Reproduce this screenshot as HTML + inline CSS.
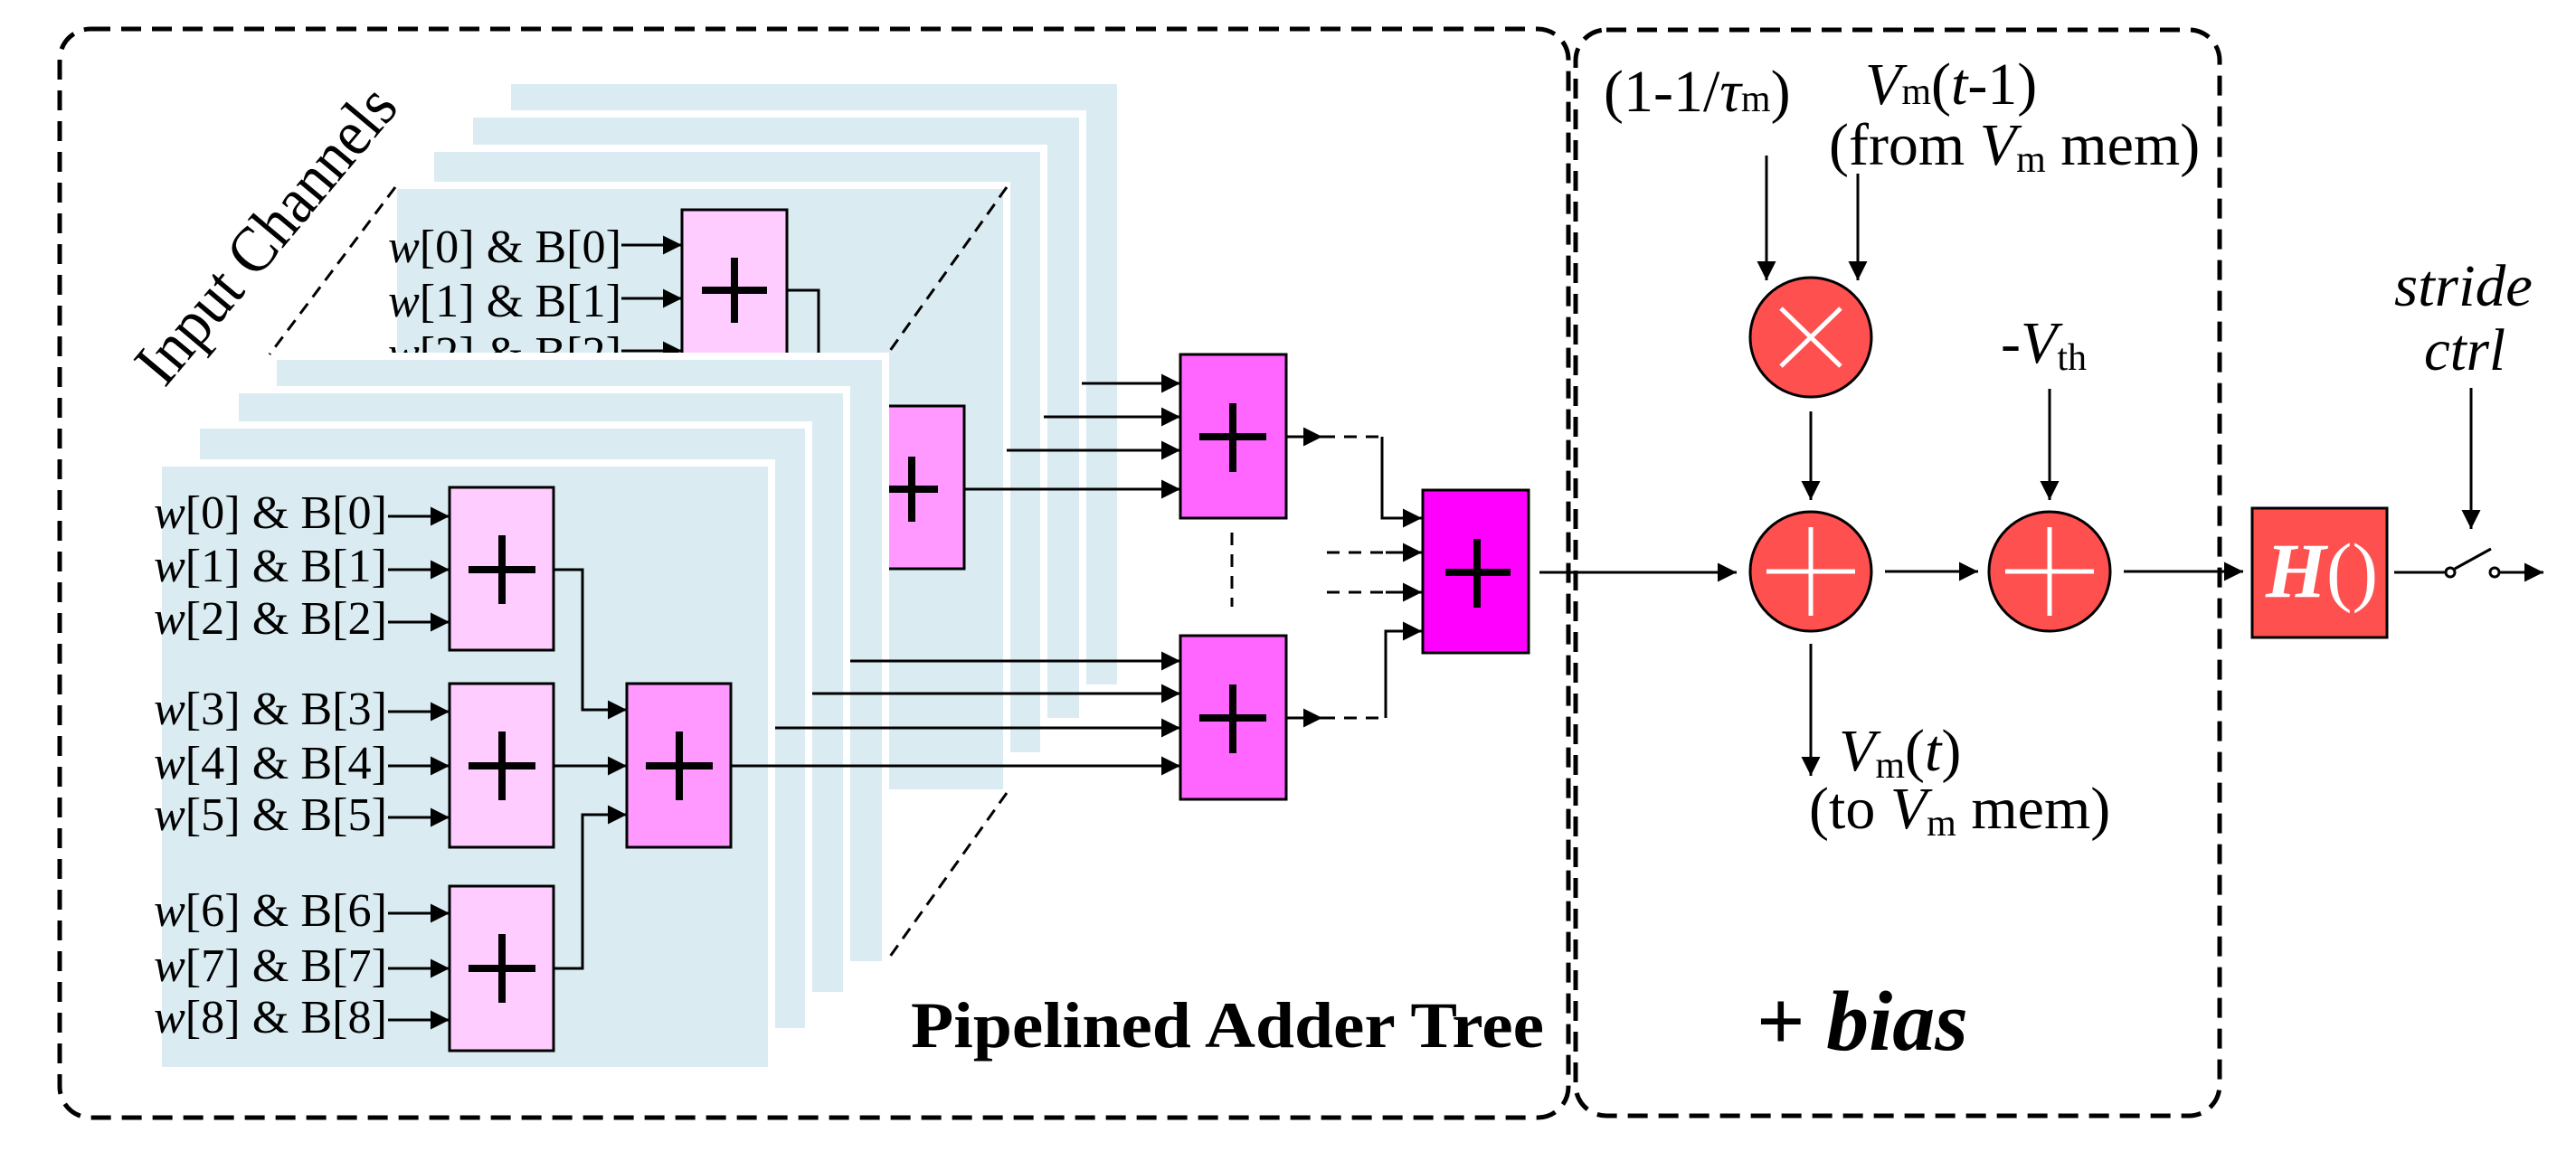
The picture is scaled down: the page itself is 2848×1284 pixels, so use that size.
<!DOCTYPE html>
<html><head><meta charset="utf-8"><style>
html,body{margin:0;padding:0;background:#fff}
svg{display:block}
text{font-family:"Liberation Serif",serif}
</style></head><body>
<svg width="2848" height="1284" viewBox="0 0 2848 1284" xmlns="http://www.w3.org/2000/svg">
<defs>
<marker id="a" markerWidth="8" markerHeight="8" refX="7" refY="4" orient="auto" markerUnits="strokeWidth"><path d="M0,0.5 L7,4 L0,7.5 z" fill="#000"/></marker>
</defs>
<rect width="2848" height="1284" fill="#fff"/>
<rect x="66" y="32" width="1668" height="1204" rx="34" fill="none" stroke="#000" stroke-width="5" stroke-dasharray="22,12"/>
<rect x="1742" y="33" width="712" height="1201" rx="34" fill="none" stroke="#000" stroke-width="5" stroke-dasharray="22,12"/>

<g fill="#daecf2" stroke="#fff" stroke-width="8">
<rect x="561" y="89" width="678" height="672"/>
<rect x="519" y="126" width="678" height="672"/>
<rect x="476" y="164" width="678" height="672"/>
<rect x="435" y="205" width="678" height="672"/>
</g>
<g font-size="52">
<text x="429" y="290" textLength="258" lengthAdjust="spacingAndGlyphs"><tspan font-style="italic">w</tspan>[0] &amp; B[0]</text>
<text x="429" y="350" textLength="258" lengthAdjust="spacingAndGlyphs"><tspan font-style="italic">w</tspan>[1] &amp; B[1]</text>
<text x="429" y="408" textLength="258" lengthAdjust="spacingAndGlyphs"><tspan font-style="italic">w</tspan>[2] &amp; B[2]</text>
</g>
<g stroke="#000" stroke-width="3" fill="none">
<line x1="687" y1="271" x2="754" y2="271" marker-end="url(#a)"/>
<line x1="687" y1="330" x2="754" y2="330" marker-end="url(#a)"/>
<line x1="687" y1="388" x2="754" y2="388" marker-end="url(#a)"/>
<polyline points="870,321 905,321 905,400"/>
</g>
<rect x="754" y="232" width="116" height="200" fill="#ffccff" stroke="#000" stroke-width="3"/>
<path d="M776,321 h72 M812,285 v72" stroke="#000" stroke-width="8"/>
<rect x="981" y="449" width="85" height="180" fill="#ff99ff" stroke="#000" stroke-width="3"/>
<path d="M981,541 h56 M1008,505 v72" stroke="#000" stroke-width="8"/>

<g fill="#daecf2" stroke="#fff" stroke-width="8">
<rect x="302" y="394" width="677" height="673"/>
<rect x="260" y="431" width="676" height="670"/>
<rect x="217" y="470" width="677" height="671"/>
<rect x="175" y="512" width="678" height="672"/>
</g>
<g stroke="#000" stroke-width="3" stroke-dasharray="14,9" fill="none">
<line x1="437" y1="207" x2="298" y2="392"/>
<line x1="1113" y1="207" x2="981" y2="392"/>
<line x1="1113" y1="877" x2="981" y2="1062"/>
</g>

<g font-size="52">
<text x="170" y="584" textLength="258" lengthAdjust="spacingAndGlyphs"><tspan font-style="italic">w</tspan>[0] &amp; B[0]</text>
<text x="170" y="643" textLength="258" lengthAdjust="spacingAndGlyphs"><tspan font-style="italic">w</tspan>[1] &amp; B[1]</text>
<text x="170" y="701" textLength="258" lengthAdjust="spacingAndGlyphs"><tspan font-style="italic">w</tspan>[2] &amp; B[2]</text>
<text x="170" y="801" textLength="258" lengthAdjust="spacingAndGlyphs"><tspan font-style="italic">w</tspan>[3] &amp; B[3]</text>
<text x="170" y="861" textLength="258" lengthAdjust="spacingAndGlyphs"><tspan font-style="italic">w</tspan>[4] &amp; B[4]</text>
<text x="170" y="918" textLength="258" lengthAdjust="spacingAndGlyphs"><tspan font-style="italic">w</tspan>[5] &amp; B[5]</text>
<text x="170" y="1024" textLength="258" lengthAdjust="spacingAndGlyphs"><tspan font-style="italic">w</tspan>[6] &amp; B[6]</text>
<text x="170" y="1085" textLength="258" lengthAdjust="spacingAndGlyphs"><tspan font-style="italic">w</tspan>[7] &amp; B[7]</text>
<text x="170" y="1142" textLength="258" lengthAdjust="spacingAndGlyphs"><tspan font-style="italic">w</tspan>[8] &amp; B[8]</text>
</g>
<g stroke="#000" stroke-width="3" fill="none">
<line x1="429" y1="571" x2="497" y2="571" marker-end="url(#a)"/>
<line x1="429" y1="630" x2="497" y2="630" marker-end="url(#a)"/>
<line x1="429" y1="688" x2="497" y2="688" marker-end="url(#a)"/>
<line x1="429" y1="787" x2="497" y2="787" marker-end="url(#a)"/>
<line x1="429" y1="847" x2="497" y2="847" marker-end="url(#a)"/>
<line x1="429" y1="904" x2="497" y2="904" marker-end="url(#a)"/>
<line x1="429" y1="1010" x2="497" y2="1010" marker-end="url(#a)"/>
<line x1="429" y1="1071" x2="497" y2="1071" marker-end="url(#a)"/>
<line x1="429" y1="1128" x2="497" y2="1128" marker-end="url(#a)"/>
<polyline points="612,630 644,630 644,785 693,785" marker-end="url(#a)"/>
<line x1="612" y1="847" x2="693" y2="847" marker-end="url(#a)"/>
<polyline points="612,1071 644,1071 644,901 693,901" marker-end="url(#a)"/>
<line x1="1196" y1="424" x2="1305" y2="424" marker-end="url(#a)"/>
<line x1="1154" y1="461" x2="1305" y2="461" marker-end="url(#a)"/>
<line x1="1113" y1="498" x2="1305" y2="498" marker-end="url(#a)"/>
<line x1="1066" y1="541" x2="1305" y2="541" marker-end="url(#a)"/>
<line x1="940" y1="731" x2="1305" y2="731" marker-end="url(#a)"/>
<line x1="898" y1="767" x2="1305" y2="767" marker-end="url(#a)"/>
<line x1="857" y1="805" x2="1305" y2="805" marker-end="url(#a)"/>
<line x1="808" y1="847" x2="1305" y2="847" marker-end="url(#a)"/>
<line x1="1422" y1="483" x2="1462" y2="483" marker-end="url(#a)"/>
<line x1="1422" y1="794" x2="1462" y2="794" marker-end="url(#a)"/>
<polyline points="1528,483 1528,573 1572,573" marker-end="url(#a)"/>
<polyline points="1532,794 1532,698 1572,698" marker-end="url(#a)"/>
<line x1="1532" y1="611" x2="1572" y2="611" marker-end="url(#a)"/>
<line x1="1532" y1="655" x2="1572" y2="655" marker-end="url(#a)"/>
</g>
<g stroke="#000" stroke-width="3" stroke-dasharray="14,10" fill="none">
<line x1="1462" y1="483" x2="1528" y2="483"/>
<line x1="1462" y1="794" x2="1532" y2="794"/>
<line x1="1467" y1="611" x2="1532" y2="611"/>
<line x1="1467" y1="655" x2="1532" y2="655"/>
<line x1="1362" y1="589" x2="1362" y2="671"/>
</g>
<g stroke="#000" stroke-width="3">
<rect x="497" y="539" width="115" height="180" fill="#ffccff"/>
<rect x="497" y="756" width="115" height="181" fill="#ffccff"/>
<rect x="497" y="980" width="115" height="182" fill="#ffccff"/>
<rect x="693" y="756" width="115" height="181" fill="#ff99ff"/>
<rect x="1305" y="392" width="117" height="181" fill="#ff66ff"/>
<rect x="1305" y="703" width="117" height="181" fill="#ff66ff"/>
<rect x="1573" y="542" width="117" height="180" fill="#ff00ff"/>
</g>
<g stroke="#000" stroke-width="8">
<path d="M518,630 h74 M555,592 v76"/>
<path d="M518,847 h74 M555,809 v76"/>
<path d="M518,1071 h74 M555,1033 v76"/>
<path d="M714,847 h74 M751,809 v76"/>
<path d="M1326,483 h74 M1363,446 v76"/>
<path d="M1326,794 h74 M1363,757 v76"/>
<path d="M1598,633 h72 M1633,596 v76"/>
</g>
<text x="0" y="0" font-size="72" transform="translate(182,430) rotate(-50)" textLength="405" lengthAdjust="spacingAndGlyphs">Input Channels</text>
<text x="1007" y="1158" font-size="72" font-weight="bold" textLength="700" lengthAdjust="spacingAndGlyphs">Pipelined Adder Tree</text>

<g stroke="#000" stroke-width="3" fill="none">
<line x1="1702" y1="633" x2="1920" y2="633" marker-end="url(#a)"/>
<line x1="1953" y1="172" x2="1953" y2="310" marker-end="url(#a)"/>
<line x1="2054" y1="192" x2="2054" y2="310" marker-end="url(#a)"/>
<line x1="2002" y1="455" x2="2002" y2="553" marker-end="url(#a)"/>
<line x1="2084" y1="632" x2="2187" y2="632" marker-end="url(#a)"/>
<line x1="2266" y1="430" x2="2266" y2="553" marker-end="url(#a)"/>
<line x1="2348" y1="632" x2="2480" y2="632" marker-end="url(#a)"/>
<line x1="2002" y1="712" x2="2002" y2="858" marker-end="url(#a)"/>
<line x1="2732" y1="429" x2="2732" y2="585" marker-end="url(#a)"/>
<line x1="2647" y1="633" x2="2704" y2="633"/>
<line x1="2714" y1="629" x2="2754" y2="607"/>
<line x1="2764" y1="633" x2="2812" y2="633" marker-end="url(#a)"/>
</g>
<circle cx="2709" cy="633" r="5" fill="#fff" stroke="#000" stroke-width="3"/>
<circle cx="2758" cy="633" r="5" fill="#fff" stroke="#000" stroke-width="3"/>
<g fill="#ff5050" stroke="#000" stroke-width="3">
<ellipse cx="2002" cy="373" rx="67" ry="66"/>
<ellipse cx="2002" cy="632" rx="67" ry="66"/>
<ellipse cx="2266" cy="632" rx="67" ry="66"/>
</g>
<g stroke="#fff" stroke-width="5">
<path d="M1969,341 L2035,405 M2035,341 L1969,405"/>
<path d="M1953,632 h98 M2002,583 v98"/>
<path d="M2217,632 h98 M2266,583 v98"/>
</g>
<rect x="2490" y="562" width="149" height="143" fill="#ff5050" stroke="#000" stroke-width="3"/>
<text x="2505" y="660" font-size="86" fill="#fff" font-weight="bold" font-style="italic">H<tspan font-weight="normal" font-style="normal">()</tspan></text>

<g font-size="66">
<text x="1773" y="123">(1-1/<tspan font-style="italic">τ</tspan><tspan font-size="42">m</tspan>)</text>
<text x="2062" y="115"><tspan font-style="italic">V</tspan><tspan font-size="42">m</tspan>(<tspan font-style="italic">t</tspan>-1)</text>
<text x="2022" y="182">(from <tspan font-style="italic">V</tspan><tspan font-size="42" dy="8">m</tspan><tspan dy="-8"> mem)</tspan></text>
<text x="2212" y="401">-<tspan font-style="italic">V</tspan><tspan font-size="42" dy="8">th</tspan></text>
<text x="2033" y="852"><tspan font-style="italic">V</tspan><tspan font-size="42" dy="8">m</tspan><tspan dy="-8">(</tspan><tspan font-style="italic">t</tspan>)</text>
<text x="2000" y="916">(to <tspan font-style="italic">V</tspan><tspan font-size="42" dy="8">m</tspan><tspan dy="-8"> mem)</tspan></text>
<text x="2647" y="338" font-style="italic" textLength="153" lengthAdjust="spacingAndGlyphs">stride</text>
<text x="2680" y="409" font-style="italic" textLength="90" lengthAdjust="spacingAndGlyphs">ctrl</text>
</g>
<text x="1942" y="1161" font-size="94" font-weight="bold">+ <tspan font-style="italic">bias</tspan></text>
</svg>
</body></html>
